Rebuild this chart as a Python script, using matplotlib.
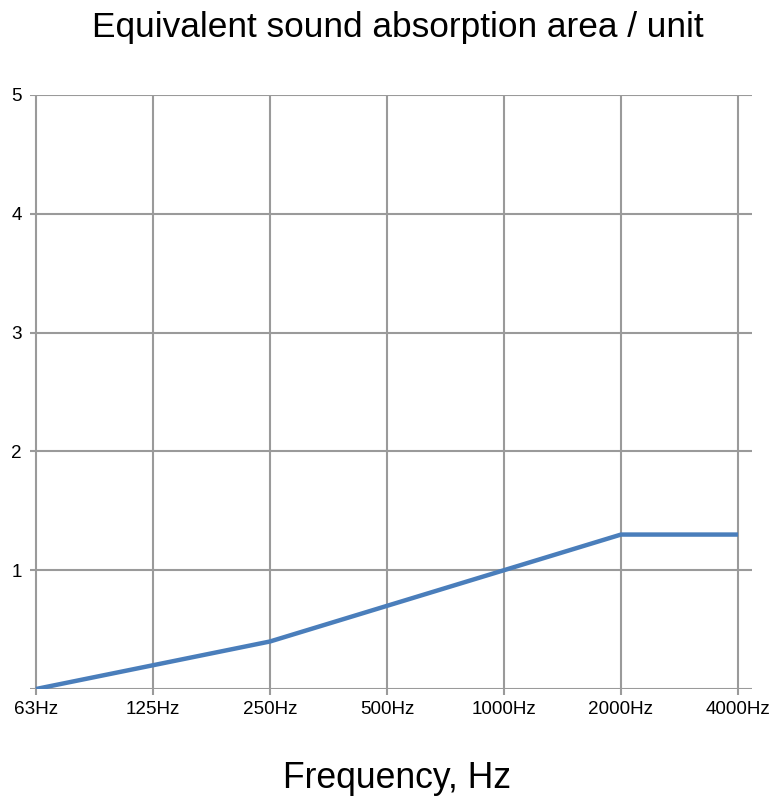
import matplotlib.pyplot as plt

plt.rcParams['font.family'] = ['Liberation Sans', 'DejaVu Sans']

freqs = ['63Hz', '125Hz', '250Hz', '500Hz', '1000Hz', '2000Hz', '4000Hz']
area = [0.0, 0.2, 0.4, 0.7, 1.0, 1.3, 1.3]
yticks = [1, 2, 3, 4, 5]

W, H = 783, 800
fig = plt.figure(figsize=(W / 100, H / 100), dpi=100)
# plot box in pixels: x 30..752, y 95..689
ax = fig.add_axes([30 / W, 1 - 689 / H, (752 - 30) / W, (689 - 95) / H])

x = list(range(len(freqs)))
step = (738 - 36) / 6
ax.set_xlim(-6 / step, 6 + 14 / step)
ax.set_ylim(0, 5)

grid = '#9a9a9a'
for v in [0] + yticks:
    ax.axhline(v, color=grid, lw=1.5, zorder=1)
for xi in x:
    ax.axvline(xi, color=grid, lw=1.5, zorder=1)

ax.plot(x, area, color='#4a7ebb', lw=3.2, solid_capstyle='butt', zorder=3)

for s in ax.spines.values():
    s.set_visible(False)

ax.set_xticks(x)
ax.set_xticklabels(freqs, fontsize=13.6)
ax.tick_params(axis='x', length=4, width=1.5, color=grid, pad=5)
ax.set_yticks(yticks)
ax.set_yticklabels([str(v) for v in yticks], fontsize=13.6)
ax.tick_params(axis='y', length=0, pad=6)

fig.text(397.5 / W, 1 - 28 / H, 'Equivalent sound absorption area / unit',
         ha='center', va='center', fontsize=25.4)
fig.text(397 / W, 1 - 778 / H, 'Frequency, Hz', ha='center', va='center', fontsize=25.6)

fig.savefig('out.png', dpi=100)
